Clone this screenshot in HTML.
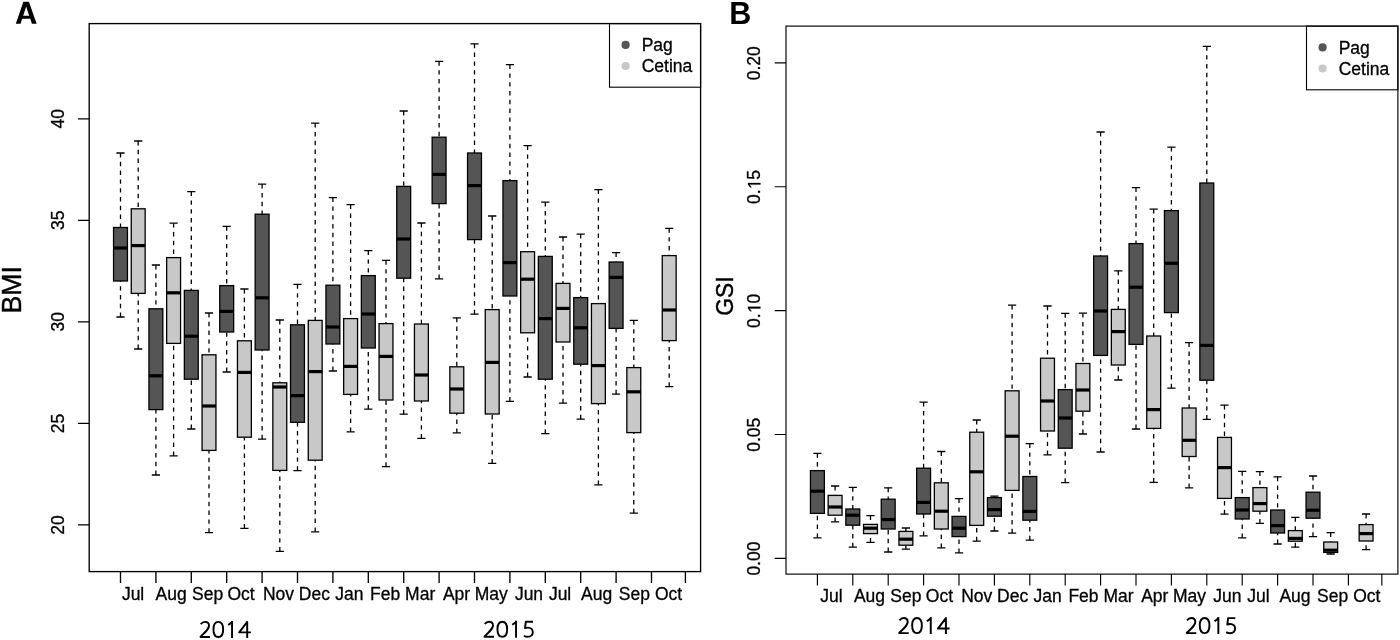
<!DOCTYPE html>
<html><head><meta charset="utf-8"><title>BMI and GSI boxplots</title>
<style>
html,body{margin:0;padding:0;background:#fff;}
body{width:1400px;height:640px;overflow:hidden;}
svg{display:block;will-change:transform;font-family:"Liberation Sans",sans-serif;fill:#000;}
.l{stroke:#000000;stroke-width:1.3;fill:none;}
rect.l{stroke:#000000;stroke-width:1.3;}
.fa .l{stroke-width:1.35}
.fb .l{stroke-width:1.15}
.b{stroke:#000000;stroke-width:1.3;}
.w{stroke:#000000;stroke-width:1.3;stroke-dasharray:4.4 4.4;fill:none;}
.m{stroke:#000;stroke-width:3.2;fill:none;}
.t{font-size:17.5px;stroke:#000;stroke-width:0.3px;}
.lg{font-size:17.5px;stroke:#000;stroke-width:0.3px;}
.pl{font-size:32px;font-weight:bold;}
.yr{fill:none;stroke:#000;stroke-width:1.95;stroke-linejoin:round;}
</style></head><body>
<svg width="1400" height="640" viewBox="0 0 1400 640">
<g class="fa">
<rect x="89.2" y="23.6" width="611.4" height="548.0" fill="none" class="l"/>
<path d="M120.50 571.6v11.3M155.90 571.6v11.3M191.30 571.6v11.3M226.70 571.6v11.3M262.10 571.6v11.3M297.50 571.6v11.3M332.90 571.6v11.3M368.30 571.6v11.3M403.70 571.6v11.3M439.10 571.6v11.3M474.50 571.6v11.3M509.90 571.6v11.3M545.30 571.6v11.3M580.70 571.6v11.3M616.10 571.6v11.3M651.50 571.6v11.3M685.4 571.6v11.3" class="l"/>
<path d="M89.2 118.8h-11.3M89.2 220.3h-11.3M89.2 321.85h-11.3M89.2 423.4h-11.3M89.2 524.9h-11.3" class="l"/>
<text transform="translate(63.8 118.8) rotate(-90) scale(1 1.03)" text-anchor="middle" class="t">40</text>
<text transform="translate(63.8 220.3) rotate(-90) scale(1 1.03)" text-anchor="middle" class="t">35</text>
<text transform="translate(63.8 321.85) rotate(-90) scale(1 1.03)" text-anchor="middle" class="t">30</text>
<text transform="translate(63.8 423.4) rotate(-90) scale(1 1.03)" text-anchor="middle" class="t">25</text>
<text transform="translate(63.8 524.9) rotate(-90) scale(1 1.03)" text-anchor="middle" class="t">20</text>
<text transform="translate(121.9 599.5) scale(1 1.03)" class="t">Jul</text>
<text transform="translate(155.6 599.5) scale(1 1.03)" class="t">Aug</text>
<text transform="translate(192.0 599.5) scale(1 1.03)" class="t">Sep</text>
<text transform="translate(227.5 599.5) scale(1 1.03)" class="t">Oct</text>
<text transform="translate(262.9 599.5) scale(1 1.03)" class="t">Nov</text>
<text transform="translate(298.8 599.5) scale(1 1.03)" class="t">Dec</text>
<text transform="translate(335.2 599.5) scale(1 1.03)" class="t">Jan</text>
<text transform="translate(370.1 599.5) scale(1 1.03)" class="t">Feb</text>
<text transform="translate(405.1 599.5) scale(1 1.03)" class="t">Mar</text>
<text transform="translate(442.9 599.5) scale(1 1.03)" class="t">Apr</text>
<text transform="translate(474.7 599.5) scale(1 1.03)" class="t">May</text>
<text transform="translate(514.9 599.5) scale(1 1.03)" class="t">Jun</text>
<text transform="translate(548.9 599.5) scale(1 1.03)" class="t">Jul</text>
<text transform="translate(581.1 599.5) scale(1 1.03)" class="t">Aug</text>
<text transform="translate(618.8 599.5) scale(1 1.03)" class="t">Sep</text>
<text transform="translate(654.9 599.5) scale(1 1.03)" class="t">Oct</text>
<rect x="609.5" y="23.6" width="91.1" height="63.6" class="l" style="stroke-width:1.1px"/>
<circle cx="625.6" cy="44.900000000000006" r="4.1" fill="#555555"/>
<circle cx="625.6" cy="66.0" r="4.1" fill="#c8c8c8"/>
</g>
<text x="641.7" y="51.0" class="lg">Pag</text>
<text x="641.7" y="72.0" class="lg">Cetina</text>
<path d="M120.50 153.00V227.50M120.50 317.00V281.00" class="w"/>
<path d="M116.40 153.00h8.2M116.40 317.00h8.2" class="l"/>
<rect x="113.55" y="227.50" width="13.9" height="53.50" fill="#555555" class="b"/>
<path d="M113.55 248.00h13.9" class="m"/>
<path d="M138.20 141.00V208.80M138.20 349.00V293.40" class="w"/>
<path d="M134.10 141.00h8.2M134.10 349.00h8.2" class="l"/>
<rect x="131.25" y="208.80" width="13.9" height="84.60" fill="#c8c8c8" class="b"/>
<path d="M131.25 245.60h13.9" class="m"/>
<path d="M155.90 265.00V308.80M155.90 475.00V409.60" class="w"/>
<path d="M151.80 265.00h8.2M151.80 475.00h8.2" class="l"/>
<rect x="148.95" y="308.80" width="13.9" height="100.80" fill="#555555" class="b"/>
<path d="M148.95 375.80h13.9" class="m"/>
<path d="M173.60 223.20V257.60M173.60 455.80V343.40" class="w"/>
<path d="M169.50 223.20h8.2M169.50 455.80h8.2" class="l"/>
<rect x="166.65" y="257.60" width="13.9" height="85.80" fill="#c8c8c8" class="b"/>
<path d="M166.65 292.80h13.9" class="m"/>
<path d="M191.30 191.60V290.40M191.30 429.00V379.20" class="w"/>
<path d="M187.20 191.60h8.2M187.20 429.00h8.2" class="l"/>
<rect x="184.35" y="290.40" width="13.9" height="88.80" fill="#555555" class="b"/>
<path d="M184.35 336.20h13.9" class="m"/>
<path d="M209.00 313.00V354.80M209.00 532.60V450.40" class="w"/>
<path d="M204.90 313.00h8.2M204.90 532.60h8.2" class="l"/>
<rect x="202.05" y="354.80" width="13.9" height="95.60" fill="#c8c8c8" class="b"/>
<path d="M202.05 406.00h13.9" class="m"/>
<path d="M226.70 226.30V285.60M226.70 372.00V332.00" class="w"/>
<path d="M222.60 226.30h8.2M222.60 372.00h8.2" class="l"/>
<rect x="219.75" y="285.60" width="13.9" height="46.40" fill="#555555" class="b"/>
<path d="M219.75 311.40h13.9" class="m"/>
<path d="M244.40 289.00V340.80M244.40 528.40V437.20" class="w"/>
<path d="M240.30 289.00h8.2M240.30 528.40h8.2" class="l"/>
<rect x="237.45" y="340.80" width="13.9" height="96.40" fill="#c8c8c8" class="b"/>
<path d="M237.45 372.40h13.9" class="m"/>
<path d="M262.10 184.20V214.20M262.10 439.20V350.00" class="w"/>
<path d="M258.00 184.20h8.2M258.00 439.20h8.2" class="l"/>
<rect x="255.15" y="214.20" width="13.9" height="135.80" fill="#555555" class="b"/>
<path d="M255.15 297.80h13.9" class="m"/>
<path d="M279.80 320.00V382.80M279.80 551.40V470.40" class="w"/>
<path d="M275.70 320.00h8.2M275.70 551.40h8.2" class="l"/>
<rect x="272.85" y="382.80" width="13.9" height="87.60" fill="#c8c8c8" class="b"/>
<path d="M272.85 387.00h13.9" class="m"/>
<path d="M297.50 284.40V324.80M297.50 470.60V422.30" class="w"/>
<path d="M293.40 284.40h8.2M293.40 470.60h8.2" class="l"/>
<rect x="290.55" y="324.80" width="13.9" height="97.50" fill="#555555" class="b"/>
<path d="M290.55 395.60h13.9" class="m"/>
<path d="M315.20 123.20V320.40M315.20 531.80V460.20" class="w"/>
<path d="M311.10 123.20h8.2M311.10 531.80h8.2" class="l"/>
<rect x="308.25" y="320.40" width="13.9" height="139.80" fill="#c8c8c8" class="b"/>
<path d="M308.25 371.60h13.9" class="m"/>
<path d="M332.90 197.60V285.20M332.90 371.00V344.00" class="w"/>
<path d="M328.80 197.60h8.2M328.80 371.00h8.2" class="l"/>
<rect x="325.95" y="285.20" width="13.9" height="58.80" fill="#555555" class="b"/>
<path d="M325.95 327.00h13.9" class="m"/>
<path d="M350.60 204.70V318.60M350.60 431.80V394.40" class="w"/>
<path d="M346.50 204.70h8.2M346.50 431.80h8.2" class="l"/>
<rect x="343.65" y="318.60" width="13.9" height="75.80" fill="#c8c8c8" class="b"/>
<path d="M343.65 366.40h13.9" class="m"/>
<path d="M368.30 250.60V275.60M368.30 409.20V348.00" class="w"/>
<path d="M364.20 250.60h8.2M364.20 409.20h8.2" class="l"/>
<rect x="361.35" y="275.60" width="13.9" height="72.40" fill="#555555" class="b"/>
<path d="M361.35 314.00h13.9" class="m"/>
<path d="M386.00 260.40V323.60M386.00 466.60V400.00" class="w"/>
<path d="M381.90 260.40h8.2M381.90 466.60h8.2" class="l"/>
<rect x="379.05" y="323.60" width="13.9" height="76.40" fill="#c8c8c8" class="b"/>
<path d="M379.05 356.40h13.9" class="m"/>
<path d="M403.70 111.00V186.40M403.70 414.20V278.20" class="w"/>
<path d="M399.60 111.00h8.2M399.60 414.20h8.2" class="l"/>
<rect x="396.75" y="186.40" width="13.9" height="91.80" fill="#555555" class="b"/>
<path d="M396.75 239.00h13.9" class="m"/>
<path d="M421.40 223.00V324.00M421.40 438.40V401.00" class="w"/>
<path d="M417.30 223.00h8.2M417.30 438.40h8.2" class="l"/>
<rect x="414.45" y="324.00" width="13.9" height="77.00" fill="#c8c8c8" class="b"/>
<path d="M414.45 375.00h13.9" class="m"/>
<path d="M439.10 61.40V137.20M439.10 278.80V203.60" class="w"/>
<path d="M435.00 61.40h8.2M435.00 278.80h8.2" class="l"/>
<rect x="432.15" y="137.20" width="13.9" height="66.40" fill="#555555" class="b"/>
<path d="M432.15 174.40h13.9" class="m"/>
<path d="M456.80 317.80V366.80M456.80 432.80V413.20" class="w"/>
<path d="M452.70 317.80h8.2M452.70 432.80h8.2" class="l"/>
<rect x="449.85" y="366.80" width="13.9" height="46.40" fill="#c8c8c8" class="b"/>
<path d="M449.85 389.00h13.9" class="m"/>
<path d="M474.50 43.80V153.00M474.50 314.20V239.60" class="w"/>
<path d="M470.40 43.80h8.2M470.40 314.20h8.2" class="l"/>
<rect x="467.55" y="153.00" width="13.9" height="86.60" fill="#555555" class="b"/>
<path d="M467.55 185.60h13.9" class="m"/>
<path d="M492.20 216.00V309.60M492.20 463.40V414.00" class="w"/>
<path d="M488.10 216.00h8.2M488.10 463.40h8.2" class="l"/>
<rect x="485.25" y="309.60" width="13.9" height="104.40" fill="#c8c8c8" class="b"/>
<path d="M485.25 362.40h13.9" class="m"/>
<path d="M509.90 64.60V180.60M509.90 401.40V296.00" class="w"/>
<path d="M505.80 64.60h8.2M505.80 401.40h8.2" class="l"/>
<rect x="502.95" y="180.60" width="13.9" height="115.40" fill="#555555" class="b"/>
<path d="M502.95 262.60h13.9" class="m"/>
<path d="M527.60 145.60V251.70M527.60 377.00V332.80" class="w"/>
<path d="M523.50 145.60h8.2M523.50 377.00h8.2" class="l"/>
<rect x="520.65" y="251.70" width="13.9" height="81.10" fill="#c8c8c8" class="b"/>
<path d="M520.65 279.20h13.9" class="m"/>
<path d="M545.30 202.20V256.40M545.30 433.60V379.20" class="w"/>
<path d="M541.20 202.20h8.2M541.20 433.60h8.2" class="l"/>
<rect x="538.35" y="256.40" width="13.9" height="122.80" fill="#555555" class="b"/>
<path d="M538.35 318.60h13.9" class="m"/>
<path d="M563.00 237.00V283.40M563.00 403.20V342.00" class="w"/>
<path d="M558.90 237.00h8.2M558.90 403.20h8.2" class="l"/>
<rect x="556.05" y="283.40" width="13.9" height="58.60" fill="#c8c8c8" class="b"/>
<path d="M556.05 308.40h13.9" class="m"/>
<path d="M580.70 234.20V297.60M580.70 419.20V364.20" class="w"/>
<path d="M576.60 234.20h8.2M576.60 419.20h8.2" class="l"/>
<rect x="573.75" y="297.60" width="13.9" height="66.60" fill="#555555" class="b"/>
<path d="M573.75 327.80h13.9" class="m"/>
<path d="M598.40 189.60V303.60M598.40 484.80V403.60" class="w"/>
<path d="M594.30 189.60h8.2M594.30 484.80h8.2" class="l"/>
<rect x="591.45" y="303.60" width="13.9" height="100.00" fill="#c8c8c8" class="b"/>
<path d="M591.45 365.60h13.9" class="m"/>
<path d="M616.10 252.60V262.00M616.10 394.20V328.40" class="w"/>
<path d="M612.00 252.60h8.2M612.00 394.20h8.2" class="l"/>
<rect x="609.15" y="262.00" width="13.9" height="66.40" fill="#555555" class="b"/>
<path d="M609.15 277.40h13.9" class="m"/>
<path d="M633.80 320.40V367.60M633.80 513.20V432.60" class="w"/>
<path d="M629.70 320.40h8.2M629.70 513.20h8.2" class="l"/>
<rect x="626.85" y="367.60" width="13.9" height="65.00" fill="#c8c8c8" class="b"/>
<path d="M626.85 391.80h13.9" class="m"/>
<path d="M669.20 228.40V255.60M669.20 386.60V340.60" class="w"/>
<path d="M665.10 228.40h8.2M665.10 386.60h8.2" class="l"/>
<rect x="662.25" y="255.60" width="13.9" height="85.00" fill="#c8c8c8" class="b"/>
<path d="M662.25 310.00h13.9" class="m"/>
<g class="fb">
<rect x="786.0" y="26.1" width="611.9000000000001" height="548.0" fill="none" class="l"/>
<path d="M817.40 574.1v11.3M852.80 574.1v11.3M888.20 574.1v11.3M923.60 574.1v11.3M959.00 574.1v11.3M994.40 574.1v11.3M1029.80 574.1v11.3M1065.20 574.1v11.3M1100.60 574.1v11.3M1136.00 574.1v11.3M1171.40 574.1v11.3M1206.80 574.1v11.3M1242.20 574.1v11.3M1277.60 574.1v11.3M1313.00 574.1v11.3M1348.40 574.1v11.3M1381.85 574.1v11.3" class="l"/>
<path d="M786.0 62.9h-11.3M786.0 186.75h-11.3M786.0 310.6h-11.3M786.0 434.45h-11.3M786.0 558.3h-11.3" class="l"/>
<text transform="translate(760.4 63.2) rotate(-90) scale(1 1.03)" text-anchor="middle" class="t">0.20</text>
<g transform="translate(760.4 187.05) rotate(-90) scale(1 1.03)" class="t"><text x="-17.03">0.</text><path transform="translate(-2.43 0) scale(0.008545 -0.008545)" d="M575 0V1237L257 1010V1180L590 1409H756V0Z" style="stroke-width:35px"/><text x="7.30">5</text></g>
<g transform="translate(760.4 310.9) rotate(-90) scale(1 1.03)" class="t"><text x="-17.03">0.</text><path transform="translate(-2.43 0) scale(0.008545 -0.008545)" d="M575 0V1237L257 1010V1180L590 1409H756V0Z" style="stroke-width:35px"/><text x="7.30">0</text></g>
<text transform="translate(760.4 434.75) rotate(-90) scale(1 1.03)" text-anchor="middle" class="t">0.05</text>
<text transform="translate(760.4 558.6) rotate(-90) scale(1 1.03)" text-anchor="middle" class="t">0.00</text>
<text transform="translate(820.2 602.0) scale(1 1.03)" class="t">Jul</text>
<text transform="translate(853.9 602.0) scale(1 1.03)" class="t">Aug</text>
<text transform="translate(890.3 602.0) scale(1 1.03)" class="t">Sep</text>
<text transform="translate(925.8 602.0) scale(1 1.03)" class="t">Oct</text>
<text transform="translate(961.2 602.0) scale(1 1.03)" class="t">Nov</text>
<text transform="translate(997.1 602.0) scale(1 1.03)" class="t">Dec</text>
<text transform="translate(1033.5 602.0) scale(1 1.03)" class="t">Jan</text>
<text transform="translate(1068.4 602.0) scale(1 1.03)" class="t">Feb</text>
<text transform="translate(1103.4 602.0) scale(1 1.03)" class="t">Mar</text>
<text transform="translate(1141.2 602.0) scale(1 1.03)" class="t">Apr</text>
<text transform="translate(1173.0 602.0) scale(1 1.03)" class="t">May</text>
<text transform="translate(1213.2 602.0) scale(1 1.03)" class="t">Jun</text>
<text transform="translate(1247.2 602.0) scale(1 1.03)" class="t">Jul</text>
<text transform="translate(1279.4 602.0) scale(1 1.03)" class="t">Aug</text>
<text transform="translate(1317.1 602.0) scale(1 1.03)" class="t">Sep</text>
<text transform="translate(1353.2 602.0) scale(1 1.03)" class="t">Oct</text>
<rect x="1306.5" y="26.1" width="91.4" height="63.7" class="l" style="stroke-width:1.1px"/>
<circle cx="1322.6" cy="47.400000000000006" r="4.1" fill="#555555"/>
<circle cx="1322.6" cy="68.5" r="4.1" fill="#c8c8c8"/>
</g>
<text x="1338.7" y="53.5" class="lg">Pag</text>
<text x="1338.7" y="74.5" class="lg">Cetina</text>
<path d="M817.40 453.30V470.60M817.40 537.80V513.40" class="w"/>
<path d="M813.30 453.30h8.2M813.30 537.80h8.2" class="l"/>
<rect x="810.45" y="470.60" width="13.9" height="42.80" fill="#555555" class="b"/>
<path d="M810.45 491.20h13.9" class="m"/>
<path d="M835.10 486.00V495.40M835.10 521.80V515.20" class="w"/>
<path d="M831.00 486.00h8.2M831.00 521.80h8.2" class="l"/>
<rect x="828.15" y="495.40" width="13.9" height="19.80" fill="#c8c8c8" class="b"/>
<path d="M828.15 507.00h13.9" class="m"/>
<path d="M852.80 487.40V509.00M852.80 547.20V525.20" class="w"/>
<path d="M848.70 487.40h8.2M848.70 547.20h8.2" class="l"/>
<rect x="845.85" y="509.00" width="13.9" height="16.20" fill="#555555" class="b"/>
<path d="M845.85 515.20h13.9" class="m"/>
<path d="M870.50 515.60V524.40M870.50 542.40V533.60" class="w"/>
<path d="M866.40 515.60h8.2M866.40 542.40h8.2" class="l"/>
<rect x="863.55" y="524.40" width="13.9" height="9.20" fill="#c8c8c8" class="b"/>
<path d="M863.55 528.20h13.9" class="m"/>
<path d="M888.20 487.80V499.20M888.20 552.00V529.00" class="w"/>
<path d="M884.10 487.80h8.2M884.10 552.00h8.2" class="l"/>
<rect x="881.25" y="499.20" width="13.9" height="29.80" fill="#555555" class="b"/>
<path d="M881.25 519.60h13.9" class="m"/>
<path d="M905.90 528.00V531.40M905.90 549.20V545.20" class="w"/>
<path d="M901.80 528.00h8.2M901.80 549.20h8.2" class="l"/>
<rect x="898.95" y="531.40" width="13.9" height="13.80" fill="#c8c8c8" class="b"/>
<path d="M898.95 539.20h13.9" class="m"/>
<path d="M923.60 402.20V468.20M923.60 535.80V514.00" class="w"/>
<path d="M919.50 402.20h8.2M919.50 535.80h8.2" class="l"/>
<rect x="916.65" y="468.20" width="13.9" height="45.80" fill="#555555" class="b"/>
<path d="M916.65 502.40h13.9" class="m"/>
<path d="M941.30 451.50V482.80M941.30 547.80V529.00" class="w"/>
<path d="M937.20 451.50h8.2M937.20 547.80h8.2" class="l"/>
<rect x="934.35" y="482.80" width="13.9" height="46.20" fill="#c8c8c8" class="b"/>
<path d="M934.35 511.20h13.9" class="m"/>
<path d="M959.00 498.60V516.40M959.00 552.80V536.60" class="w"/>
<path d="M954.90 498.60h8.2M954.90 552.80h8.2" class="l"/>
<rect x="952.05" y="516.40" width="13.9" height="20.20" fill="#555555" class="b"/>
<path d="M952.05 528.20h13.9" class="m"/>
<path d="M976.70 420.00V432.20M976.70 541.20V525.40" class="w"/>
<path d="M972.60 420.00h8.2M972.60 541.20h8.2" class="l"/>
<rect x="969.75" y="432.20" width="13.9" height="93.20" fill="#c8c8c8" class="b"/>
<path d="M969.75 471.80h13.9" class="m"/>
<path d="M994.40 496.20V497.60M994.40 531.00V516.20" class="w"/>
<path d="M990.30 496.20h8.2M990.30 531.00h8.2" class="l"/>
<rect x="987.45" y="497.60" width="13.9" height="18.60" fill="#555555" class="b"/>
<path d="M987.45 509.60h13.9" class="m"/>
<path d="M1012.10 305.20V390.80M1012.10 533.20V490.40" class="w"/>
<path d="M1008.00 305.20h8.2M1008.00 533.20h8.2" class="l"/>
<rect x="1005.15" y="390.80" width="13.9" height="99.60" fill="#c8c8c8" class="b"/>
<path d="M1005.15 436.20h13.9" class="m"/>
<path d="M1029.80 443.60V476.50M1029.80 540.20V520.20" class="w"/>
<path d="M1025.70 443.60h8.2M1025.70 540.20h8.2" class="l"/>
<rect x="1022.85" y="476.50" width="13.9" height="43.70" fill="#555555" class="b"/>
<path d="M1022.85 511.40h13.9" class="m"/>
<path d="M1047.50 306.00V358.20M1047.50 454.90V431.00" class="w"/>
<path d="M1043.40 306.00h8.2M1043.40 454.90h8.2" class="l"/>
<rect x="1040.55" y="358.20" width="13.9" height="72.80" fill="#c8c8c8" class="b"/>
<path d="M1040.55 401.00h13.9" class="m"/>
<path d="M1065.20 313.40V389.60M1065.20 482.60V448.20" class="w"/>
<path d="M1061.10 313.40h8.2M1061.10 482.60h8.2" class="l"/>
<rect x="1058.25" y="389.60" width="13.9" height="58.60" fill="#555555" class="b"/>
<path d="M1058.25 418.00h13.9" class="m"/>
<path d="M1082.90 313.20V363.50M1082.90 434.00V411.20" class="w"/>
<path d="M1078.80 313.20h8.2M1078.80 434.00h8.2" class="l"/>
<rect x="1075.95" y="363.50" width="13.9" height="47.70" fill="#c8c8c8" class="b"/>
<path d="M1075.95 390.00h13.9" class="m"/>
<path d="M1100.60 132.00V256.00M1100.60 452.00V355.40" class="w"/>
<path d="M1096.50 132.00h8.2M1096.50 452.00h8.2" class="l"/>
<rect x="1093.65" y="256.00" width="13.9" height="99.40" fill="#555555" class="b"/>
<path d="M1093.65 311.00h13.9" class="m"/>
<path d="M1118.30 270.80V309.40M1118.30 380.00V365.00" class="w"/>
<path d="M1114.20 270.80h8.2M1114.20 380.00h8.2" class="l"/>
<rect x="1111.35" y="309.40" width="13.9" height="55.60" fill="#c8c8c8" class="b"/>
<path d="M1111.35 331.60h13.9" class="m"/>
<path d="M1136.00 187.60V243.60M1136.00 429.00V344.40" class="w"/>
<path d="M1131.90 187.60h8.2M1131.90 429.00h8.2" class="l"/>
<rect x="1129.05" y="243.60" width="13.9" height="100.80" fill="#555555" class="b"/>
<path d="M1129.05 287.20h13.9" class="m"/>
<path d="M1153.70 209.20V336.00M1153.70 482.40V428.40" class="w"/>
<path d="M1149.60 209.20h8.2M1149.60 482.40h8.2" class="l"/>
<rect x="1146.75" y="336.00" width="13.9" height="92.40" fill="#c8c8c8" class="b"/>
<path d="M1146.75 409.60h13.9" class="m"/>
<path d="M1171.40 147.20V210.60M1171.40 388.20V312.60" class="w"/>
<path d="M1167.30 147.20h8.2M1167.30 388.20h8.2" class="l"/>
<rect x="1164.45" y="210.60" width="13.9" height="102.00" fill="#555555" class="b"/>
<path d="M1164.45 263.30h13.9" class="m"/>
<path d="M1189.10 342.70V408.00M1189.10 487.80V456.50" class="w"/>
<path d="M1185.00 342.70h8.2M1185.00 487.80h8.2" class="l"/>
<rect x="1182.15" y="408.00" width="13.9" height="48.50" fill="#c8c8c8" class="b"/>
<path d="M1182.15 440.30h13.9" class="m"/>
<path d="M1206.80 46.40V183.00M1206.80 419.40V380.20" class="w"/>
<path d="M1202.70 46.40h8.2M1202.70 419.40h8.2" class="l"/>
<rect x="1199.85" y="183.00" width="13.9" height="197.20" fill="#555555" class="b"/>
<path d="M1199.85 345.40h13.9" class="m"/>
<path d="M1224.50 405.20V437.40M1224.50 514.20V498.40" class="w"/>
<path d="M1220.40 405.20h8.2M1220.40 514.20h8.2" class="l"/>
<rect x="1217.55" y="437.40" width="13.9" height="61.00" fill="#c8c8c8" class="b"/>
<path d="M1217.55 467.60h13.9" class="m"/>
<path d="M1242.20 471.40V497.60M1242.20 537.80V519.00" class="w"/>
<path d="M1238.10 471.40h8.2M1238.10 537.80h8.2" class="l"/>
<rect x="1235.25" y="497.60" width="13.9" height="21.40" fill="#555555" class="b"/>
<path d="M1235.25 510.00h13.9" class="m"/>
<path d="M1259.90 471.60V487.60M1259.90 523.40V511.20" class="w"/>
<path d="M1255.80 471.60h8.2M1255.80 523.40h8.2" class="l"/>
<rect x="1252.95" y="487.60" width="13.9" height="23.60" fill="#c8c8c8" class="b"/>
<path d="M1252.95 503.60h13.9" class="m"/>
<path d="M1277.60 476.80V510.00M1277.60 544.00V533.00" class="w"/>
<path d="M1273.50 476.80h8.2M1273.50 544.00h8.2" class="l"/>
<rect x="1270.65" y="510.00" width="13.9" height="23.00" fill="#555555" class="b"/>
<path d="M1270.65 525.60h13.9" class="m"/>
<path d="M1295.30 517.40V530.60M1295.30 547.20V541.20" class="w"/>
<path d="M1291.20 517.40h8.2M1291.20 547.20h8.2" class="l"/>
<rect x="1288.35" y="530.60" width="13.9" height="10.60" fill="#c8c8c8" class="b"/>
<path d="M1288.35 538.40h13.9" class="m"/>
<path d="M1313.00 476.00V492.20M1313.00 536.60V518.20" class="w"/>
<path d="M1308.90 476.00h8.2M1308.90 536.60h8.2" class="l"/>
<rect x="1306.05" y="492.20" width="13.9" height="26.00" fill="#555555" class="b"/>
<path d="M1306.05 510.20h13.9" class="m"/>
<path d="M1330.70 532.60V542.00M1330.70 554.00V552.40" class="w"/>
<path d="M1326.60 532.60h8.2M1326.60 554.00h8.2" class="l"/>
<rect x="1323.75" y="542.00" width="13.9" height="10.40" fill="#c8c8c8" class="b"/>
<path d="M1323.75 550.20h13.9" class="m"/>
<path d="M1366.10 514.00V524.60M1366.10 549.60V541.00" class="w"/>
<path d="M1362.00 514.00h8.2M1362.00 549.60h8.2" class="l"/>
<rect x="1359.15" y="524.60" width="13.9" height="16.40" fill="#c8c8c8" class="b"/>
<path d="M1359.15 533.60h13.9" class="m"/>
<path fill-rule="evenodd" d="M23.4 1.85L28.9 1.85L36.65 23.85L31.9 23.85L30.3 18.8L22.1 18.8L20.55 23.85L15.8 23.85ZM26.2 6.6L29.2 15.75L23.15 15.75Z" fill="#000"/>
<text transform="translate(729.2 23.85) scale(0.955 1)" class="pl">B</text>
<text transform="translate(21.1 289.9) rotate(-90) scale(1 1.02)" text-anchor="middle" style="font-size:26.7px;stroke:#000;stroke-width:0.4px">BMI</text>
<text transform="translate(732.9 296) rotate(-90) scale(1 1.06)" text-anchor="middle" style="font-size:22.8px;stroke:#000;stroke-width:0.4px">GSI</text>
<path transform="translate(199.6 637.9)" d="M1.1 -13.7C2.3 -15.2 3.7 -16.05 5.3 -16.05C7.9 -16.05 9.4 -14.4 9.4 -12.2C9.4 -9.5 7.4 -7.4 1.0 -1.3L1.0 -0.95H10.4M18.7 -16.05C21.8 -16.05 23.55 -13.1 23.55 -8.5C23.55 -3.9 21.8 -0.95 18.7 -0.95C15.6 -0.95 13.85 -3.9 13.85 -8.5C13.85 -13.1 15.6 -16.05 18.7 -16.05ZM28.6 -12.9L32.3 -15.5M32.45 -17V0M47.6 0V-16L39.6 -5.55H51.3" class="yr"/>
<path transform="translate(483.6 637.7)" d="M1.1 -13.7C2.3 -15.2 3.7 -16.05 5.3 -16.05C7.9 -16.05 9.4 -14.4 9.4 -12.2C9.4 -9.5 7.4 -7.4 1.0 -1.3L1.0 -0.95H10.4M18.7 -16.05C21.8 -16.05 23.55 -13.1 23.55 -8.5C23.55 -3.9 21.8 -0.95 18.7 -0.95C15.6 -0.95 13.85 -3.9 13.85 -8.5C13.85 -13.1 15.6 -16.05 18.7 -16.05ZM28.6 -12.9L32.3 -15.5M32.45 -17V0M49.4 -15.95H42.2L41.4 -9.5C42.3 -9.9 43.3 -10.1 44.3 -10.1C47.2 -10.1 49.2 -8.2 49.2 -5.5C49.2 -2.7 47.0 -0.9 44.1 -0.9C42.6 -0.9 41.2 -1.4 40.3 -2.0" class="yr"/>
<path transform="translate(898.3 634.1)" d="M1.1 -13.7C2.3 -15.2 3.7 -16.05 5.3 -16.05C7.9 -16.05 9.4 -14.4 9.4 -12.2C9.4 -9.5 7.4 -7.4 1.0 -1.3L1.0 -0.95H10.4M18.7 -16.05C21.8 -16.05 23.55 -13.1 23.55 -8.5C23.55 -3.9 21.8 -0.95 18.7 -0.95C15.6 -0.95 13.85 -3.9 13.85 -8.5C13.85 -13.1 15.6 -16.05 18.7 -16.05ZM28.6 -12.9L32.3 -15.5M32.45 -17V0M47.6 0V-16L39.6 -5.55H51.3" class="yr"/>
<path transform="translate(1185.9 634.1)" d="M1.1 -13.7C2.3 -15.2 3.7 -16.05 5.3 -16.05C7.9 -16.05 9.4 -14.4 9.4 -12.2C9.4 -9.5 7.4 -7.4 1.0 -1.3L1.0 -0.95H10.4M18.7 -16.05C21.8 -16.05 23.55 -13.1 23.55 -8.5C23.55 -3.9 21.8 -0.95 18.7 -0.95C15.6 -0.95 13.85 -3.9 13.85 -8.5C13.85 -13.1 15.6 -16.05 18.7 -16.05ZM28.6 -12.9L32.3 -15.5M32.45 -17V0M49.4 -15.95H42.2L41.4 -9.5C42.3 -9.9 43.3 -10.1 44.3 -10.1C47.2 -10.1 49.2 -8.2 49.2 -5.5C49.2 -2.7 47.0 -0.9 44.1 -0.9C42.6 -0.9 41.2 -1.4 40.3 -2.0" class="yr"/>
</svg>
</body></html>
